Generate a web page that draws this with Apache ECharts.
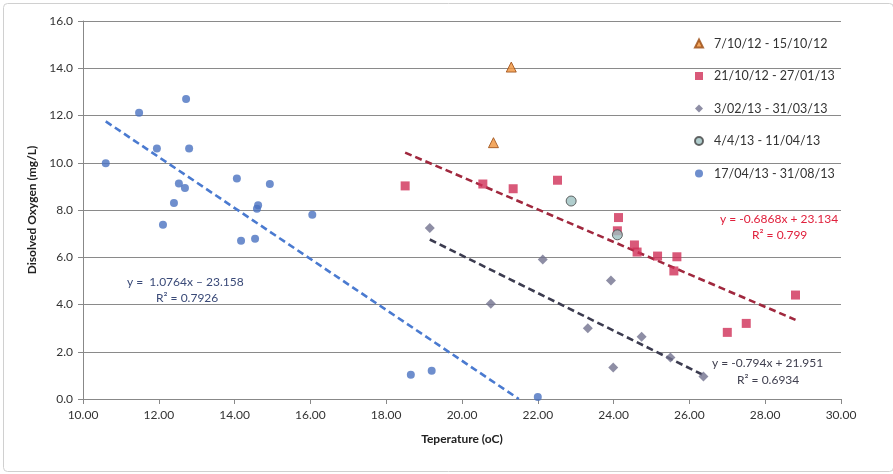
<!DOCTYPE html>
<html><head><meta charset="utf-8">
<script src="https://cdn.jsdelivr.net/npm/echarts@6/dist/echarts.min.js"></script>
<style>html,body{margin:0;padding:0;background:#fff}#c{width:893px;height:474px}</style>
</head><body><div id="c"></div>
<script>
const seriesNames = ['7/10/12 - 15/10/12','21/10/12 - 27/01/13','3/02/13 - 31/03/13','4/4/13 - 11/04/13','17/04/13 - 31/08/13'];
const triData = [[21.3,14.05],[20.83,10.85]];
const squareData = [[18.5,9.02],[20.55,9.1],[21.35,8.9],[22.52,9.26],[24.13,7.68],[24.1,7.12],[24.55,6.52],[24.62,6.22],[25.16,6.05],[25.67,6.02],[25.59,5.42],[28.8,4.4],[27.5,3.2],[27.0,2.82]];
const diamondData = [[19.15,7.24],[22.13,5.9],[20.76,4.03],[23.32,3.0],[23.93,5.02],[24.74,2.64],[23.99,1.33],[25.5,1.76],[26.37,0.95]];
const circleData = [[22.88,8.38],[24.1,6.95]];
const blueData = [[10.6,9.98],[11.48,12.12],[11.95,10.6],[12.11,7.38],[12.4,8.3],[12.53,9.12],[12.69,8.93],[12.72,12.7],[12.8,10.6],[14.06,9.33],[14.17,6.7],[14.54,6.78],[14.59,8.05],[14.62,8.2],[14.93,9.1],[16.05,7.8],[18.65,1.03],[19.2,1.2],[22.0,0.08]];
const redTrend = [[18.5,10.43],[28.8,3.35]];
const greyTrend = [[19.15,6.75],[26.37,1.01]];
const blueTrend = [[10.6,11.75],[21.5,0.0]];
const xTicks = {min:10, max:30, interval:2};
const yTicks = {min:0, max:16, interval:2};

const FONT = 'Lato';
const chart = echarts.init(document.getElementById('c'));
function trend(data,color){
  return {type:'line',data:data,showSymbol:false,symbol:'none',silent:true,z:1,
    lineStyle:{type:[7,4],width:2.6,color:color}};
}
chart.setOption({
  animation:false,
  backgroundColor:'#fff',
  textStyle:{fontFamily:FONT},
  grid:{left:83,top:21,width:758,height:378},
  xAxis:{type:'value',min:xTicks.min,max:xTicks.max,interval:xTicks.interval,
    name:'Teperature (oC)',nameLocation:'middle',nameGap:34,
    nameTextStyle:{fontFamily:FONT,fontWeight:'bold',fontSize:12,color:'#222'},
    axisLine:{show:true,lineStyle:{color:'#888',width:1}},
    axisTick:{show:true,length:5,lineStyle:{color:'#888'}},
    splitLine:{show:false},
    axisLabel:{formatter:v=>v.toFixed(2),fontFamily:FONT,fontSize:12,color:'#333',margin:10}},
  yAxis:{type:'value',min:yTicks.min,max:yTicks.max,interval:yTicks.interval,
    name:'Disolved Oxygen (mg/L)',nameLocation:'middle',nameGap:44,
    nameTextStyle:{fontFamily:FONT,fontWeight:'bold',fontSize:12,color:'#222'},
    axisLine:{show:true,lineStyle:{color:'#888',width:1}},
    axisTick:{show:true,length:5,lineStyle:{color:'#888'}},
    splitLine:{show:true,lineStyle:{color:'#8a8a8a',width:1.2}},
    axisLabel:{formatter:v=>v.toFixed(1),fontFamily:FONT,fontSize:12,color:'#333',margin:10}},
  legend:{orient:'vertical',left:689,top:32,itemGap:19.5,itemWidth:8,itemHeight:8,
    textStyle:{fontFamily:FONT,fontSize:12.5,color:'#333',padding:[0,0,0,6]},
    data:[{name:seriesNames[0],icon:'triangle'},{name:seriesNames[1],icon:'rect'},{name:seriesNames[2],icon:'diamond'},{name:seriesNames[3],icon:'circle'},{name:seriesNames[4],icon:'circle'}]},
  graphic:[
    {type:'rect',left:1,top:1,shape:{width:890,height:468,r:4},style:{fill:'none',stroke:'#d0d0d0',lineWidth:1},silent:true},
    {type:'text',left:720,top:213,style:{text:'y = -0.6868x + 23.134',fill:'#e0203c',font:'12px '+FONT}},
    {type:'text',left:752,top:229,style:{text:'R² = 0.799',fill:'#e0203c',font:'12px '+FONT}},
    {type:'text',left:712,top:357,style:{text:'y = -0.794x + 21.951',fill:'#404050',font:'12px '+FONT}},
    {type:'text',left:737,top:374,style:{text:'R² = 0.6934',fill:'#404050',font:'12px '+FONT}},
    {type:'text',left:127,top:276,style:{text:'y =  1.0764x – 23.158',fill:'#3a4a78',font:'12px '+FONT}},
    {type:'text',left:156,top:292,style:{text:'R² = 0.7926',fill:'#3a4a78',font:'12px '+FONT}}
  ],
  series:[
    {name:seriesNames[0],type:'scatter',symbol:'triangle',symbolSize:10,data:triData,z:3,
      itemStyle:{color:'#f0923a',borderColor:'#9a4a10',borderWidth:1}},
    {name:seriesNames[1],type:'scatter',symbol:'rect',symbolSize:9,data:squareData,z:3,
      itemStyle:{color:'#d03058'}},
    {name:seriesNames[2],type:'scatter',symbol:'diamond',symbolSize:10,data:diamondData,z:3,
      itemStyle:{color:'#72728e'}},
    {name:seriesNames[3],type:'scatter',symbol:'circle',symbolSize:10,data:circleData,z:4,
      itemStyle:{color:'#9cc0c0',borderColor:'#444',borderWidth:1}},
    {name:seriesNames[4],type:'scatter',symbol:'circle',symbolSize:8,data:blueData,z:3,
      itemStyle:{color:'#4a72c0'}},
    trend(redTrend,'#a0283e'),
    trend(greyTrend,'#3c3c50'),
    trend(blueTrend,'#4a7ad0')
  ]
});
</script></body></html>
